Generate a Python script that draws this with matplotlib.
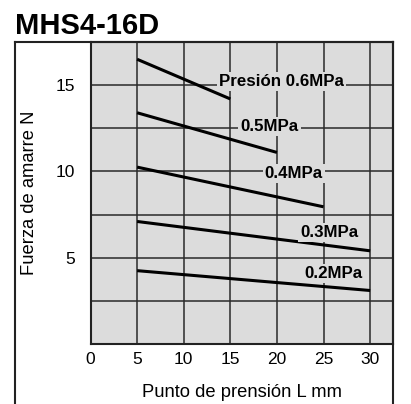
import matplotlib
matplotlib.use("Agg")
import matplotlib.pyplot as plt
from matplotlib.lines import Line2D

plt.rcParams['font.family'] = ['Liberation Sans', 'DejaVu Sans']

title = "MHS4-16D"
pressures = ["Presión 0.6MPa", "0.5MPa", "0.4MPa", "0.3MPa", "0.2MPa"]
x_start = [5, 5, 5, 5, 5]
x_end = [15, 20, 25, 30, 30]
force_start = [16.5, 13.4, 10.25, 7.1, 4.25]
force_end = [14.2, 11.1, 7.95, 5.4, 3.1]
label_x = [20.5, 19.2, 21.8, 25.6, 26.1]
label_y = [15.2, 12.6, 9.9, 6.45, 4.07]
xticks = [0, 5, 10, 15, 20, 25, 30]
yticks = [5, 10, 15]
ygrid = [2.5, 5, 7.5, 10, 12.5, 15]
xlabel = "Punto de prensión L mm"
ylabel = "Fuerza de amarre N"

W, H = 411, 404
fig = plt.figure(figsize=(W/100, H/100), dpi=100)
L, R, T, B = 90.5, 393, 42, 344
ax = fig.add_axes([L/W, 1-B/H, (R-L)/W, (B-T)/H])
bg = '#dcdcdc'
ax.set_facecolor(bg)
ax.set_xlim(0, 32.45)
ax.set_ylim(0, 17.5)

for xv in xticks[1:]:
    ax.axvline(xv, color='#2a2a2a', lw=1.1, zorder=1)
for yv in ygrid:
    ax.axhline(yv, color='#2a2a2a', lw=1.1, zorder=1)

for xs, xe, fs, fe in zip(x_start, x_end, force_start, force_end):
    ax.plot([xs, xe], [fs, fe], color='black', lw=2.2, zorder=3,
            solid_capstyle='butt')

for txt, lx, ly in zip(pressures, label_x, label_y):
    ax.text(lx, ly, txt, ha='center', va='center', fontsize=12.2,
            fontweight='bold', zorder=4,
            bbox=dict(facecolor=bg, edgecolor='none', pad=1.5))

ax.set_xticks(xticks)
ax.set_yticks(yticks)
ax.tick_params(length=0, labelsize=12.5, pad=6)
ax.tick_params(axis='y', pad=11)
for s in ax.spines.values():
    s.set_color('#222222')
    s.set_linewidth(1.5)

ax.set_xlabel(xlabel, fontsize=13.2, labelpad=12)
ax.set_ylabel(ylabel, fontsize=13.2, labelpad=13)

# outer frame
fx0 = 15/W
fy_top = 1-42/H
fx1 = 393/W
frame_kw = dict(color='#222222', lw=1.5, transform=fig.transFigure)
fig.add_artist(Line2D([fx0, fx0], [-0.01, fy_top], **frame_kw))
fig.add_artist(Line2D([fx0, fx1], [fy_top, fy_top], **frame_kw))
fig.add_artist(Line2D([fx1, fx1], [-0.01, fy_top], **frame_kw))

fig.text(15/W, 1-34.5/H, title, fontsize=21, fontweight='bold',
         ha='left', va='baseline')

fig.savefig("out.png", dpi=100)
